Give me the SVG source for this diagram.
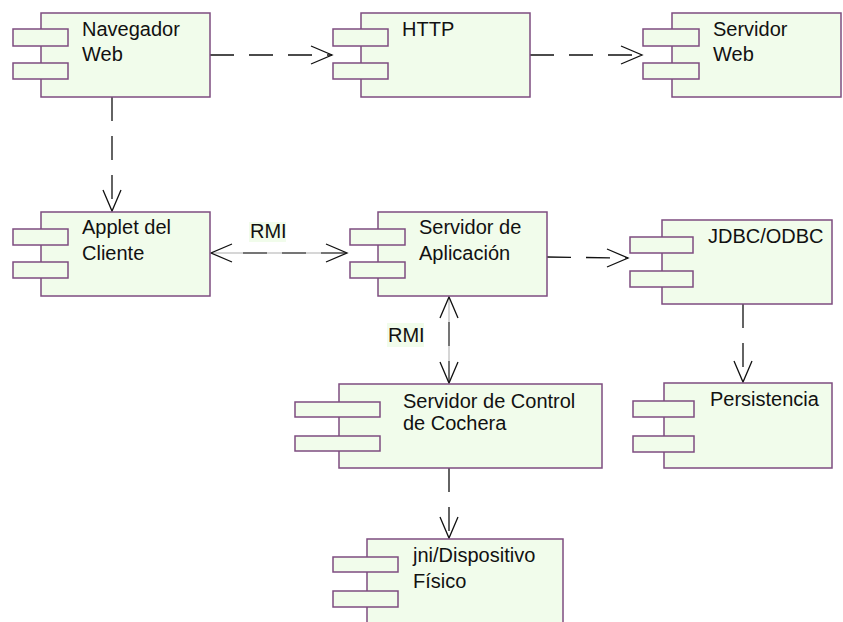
<svg xmlns="http://www.w3.org/2000/svg" width="843" height="622" viewBox="0 0 843 622">
<defs>
<style>
.box{fill:#F1FCEB;stroke:#7E4C80;stroke-width:1.5}
.t{font-family:"Liberation Sans",Arial,sans-serif;font-size:20px;fill:#111}
.c{fill:none;stroke:#111;stroke-width:1.3;stroke-dasharray:24 15}
.h{fill:none;stroke:#111;stroke-width:1.3}
.rl{fill:none;stroke:#C8C8C8;stroke-width:1.5}
.rd{fill:none;stroke:#555;stroke-width:1.5;stroke-dasharray:24 15}
.lbg{fill:#F1FCEB}
</style>
</defs>
<rect width="843" height="622" fill="#fff"/>
<g id="connectors">
<!-- Navegador -> HTTP -->
<line class="c" x1="210" y1="55" x2="332" y2="55"/>
<polyline class="h" points="311,46 332,55 311,64"/>
<!-- HTTP -> Servidor Web -->
<line class="c" x1="530" y1="55" x2="642" y2="55"/>
<polyline class="h" points="621,46 642,55 621,64"/>
<!-- Navegador -> Applet -->
<line class="c" x1="112" y1="97" x2="112" y2="211"/>
<polyline class="h" points="103,190 112,211 121,190"/>
<!-- Applet <-> Servidor Aplicacion (RMI) -->
<line class="rl" x1="212" y1="253" x2="346" y2="253"/>
<line class="rd" x1="243" y1="253" x2="346" y2="253"/>
<polyline class="h" points="232,244 211,253 232,262"/>
<polyline class="h" points="326,244 347,253 326,262"/>
<rect class="lbg" x="249" y="222" width="37" height="20"/>
<text class="t" x="250" y="238">RMI</text>
<!-- Servidor Aplicacion -> JDBC -->
<line class="c" x1="547" y1="257" x2="628" y2="258"/>
<polyline class="h" points="607,249 628,258 607,267"/>
<!-- JDBC -> Persistencia -->
<line class="c" x1="743" y1="304" x2="743" y2="382"/>
<polyline class="h" points="734,361 743,382 752,361"/>
<!-- Servidor Aplicacion <-> Control (RMI) -->
<line class="rl" x1="449" y1="298" x2="449" y2="382"/>
<line class="rd" x1="449" y1="322" x2="449" y2="382"/>
<polyline class="h" points="440,318 449,297 458,318"/>
<polyline class="h" points="440,362 449,383 458,362"/>
<rect class="lbg" x="387" y="323" width="37" height="24"/>
<text class="t" x="388" y="342">RMI</text>
<!-- Control -> jni -->
<line class="c" x1="449" y1="468" x2="449" y2="538"/>
<polyline class="h" points="440,517 449,538 458,517"/>
</g>
<g id="navegador">
<rect class="box" x="41" y="13" width="169" height="84"/>
<rect class="box" x="13" y="29" width="55" height="17"/>
<rect class="box" x="13" y="63" width="55" height="16"/>
<text class="t" x="82" y="36">Navegador</text>
<text class="t" x="82" y="61">Web</text>
</g>
<g id="http">
<rect class="box" x="361" y="13" width="169" height="84"/>
<rect class="box" x="333" y="29" width="55" height="17"/>
<rect class="box" x="333" y="63" width="55" height="16"/>
<text class="t" x="402" y="36">HTTP</text>
</g>
<g id="servidorweb">
<rect class="box" x="672" y="13" width="169" height="84"/>
<rect class="box" x="643" y="29" width="56" height="17"/>
<rect class="box" x="643" y="63" width="56" height="16"/>
<text class="t" x="713" y="36">Servidor</text>
<text class="t" x="713" y="61">Web</text>
</g>
<g id="applet">
<rect class="box" x="41" y="212" width="169" height="84"/>
<rect class="box" x="13" y="229" width="55" height="16"/>
<rect class="box" x="13" y="262" width="55" height="16"/>
<text class="t" x="82" y="234">Applet del</text>
<text class="t" x="82" y="260">Cliente</text>
</g>
<g id="servidoraplicacion">
<rect class="box" x="378" y="212" width="169" height="84"/>
<rect class="box" x="350" y="229" width="55" height="16"/>
<rect class="box" x="350" y="262" width="55" height="16"/>
<text class="t" x="419" y="234">Servidor de</text>
<text class="t" x="419" y="260">Aplicación</text>
</g>
<g id="jdbc">
<rect class="box" x="662" y="220" width="170" height="84"/>
<rect class="box" x="630" y="237" width="63" height="16"/>
<rect class="box" x="630" y="271" width="63" height="16"/>
<text class="t" x="708" y="243">JDBC/ODBC</text>
</g>
<g id="persistencia">
<rect class="box" x="664" y="383" width="168" height="85"/>
<rect class="box" x="633" y="401" width="61" height="16"/>
<rect class="box" x="633" y="436" width="61" height="16"/>
<text class="t" x="710" y="406">Persistencia</text>
</g>
<g id="control">
<rect class="box" x="339" y="384" width="263" height="84"/>
<rect class="box" x="295" y="402" width="85" height="15"/>
<rect class="box" x="295" y="436" width="85" height="15"/>
<text class="t" x="403" y="408">Servidor de Control</text>
<text class="t" x="403" y="430">de Cochera</text>
</g>
<g id="jni">
<rect class="box" x="367" y="539" width="196" height="95"/>
<rect class="box" x="333" y="557" width="65" height="15"/>
<rect class="box" x="333" y="591" width="65" height="16"/>
<text class="t" x="413" y="562">jni/Dispositivo</text>
<text class="t" x="413" y="588">Físico</text>
</g>
</svg>
